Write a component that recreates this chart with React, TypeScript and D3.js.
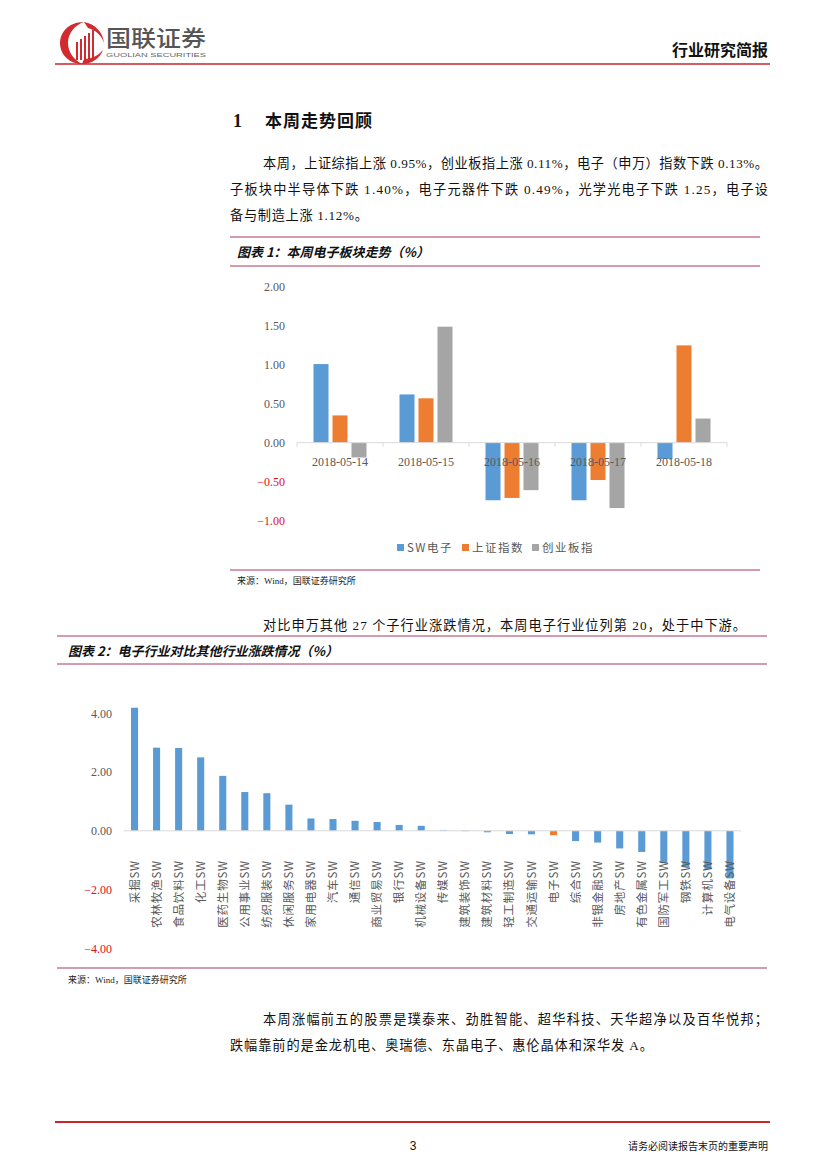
import React from "react";
import * as d3 from "d3";

// ---------- Chart 1 data ----------
const dates = ["2018-05-14", "2018-05-15", "2018-05-16", "2018-05-17", "2018-05-18"];
const seriesNames = ["SW电子", "上证指数", "创业板指"];
const swElec = [1.01, 0.62, -0.74, -0.74, -0.21];
const shIndex = [0.35, 0.57, -0.71, -0.48, 1.25];
const cybIndex = [-0.19, 1.49, -0.61, -0.84, 0.31];
const chart1Ticks = [-1, -0.5, 0, 0.5, 1, 1.5, 2];

// ---------- Chart 2 data ----------
const industries = [
  "采掘SW", "农林牧渔SW", "食品饮料SW", "化工SW", "医药生物SW", "公用事业SW", "纺织服装SW",
  "休闲服务SW", "家用电器SW", "汽车SW", "通信SW", "商业贸易SW", "银行SW", "机械设备SW",
  "传媒SW", "建筑装饰SW", "建筑材料SW", "轻工制造SW", "交通运输SW", "电子SW", "综合SW",
  "非银金融SW", "房地产SW", "有色金属SW", "国防军工SW", "钢铁SW", "计算机SW", "电气设备SW",
];
const industryChange = [
  4.19, 2.83, 2.82, 2.5, 1.87, 1.32, 1.28, 0.89, 0.42, 0.4, 0.34, 0.3, 0.2, 0.17,
  0.02, 0.01, -0.05, -0.11, -0.12, -0.15, -0.35, -0.4, -0.6, -0.72, -1.1, -1.24, -1.3, -1.62,
];
const highlight = "电子SW";
const chart2Ticks = [-4, -2, 0, 2, 4];

const BLUE = "#5B9BD5";
const ORANGE = "#ED7D31";
const GREY = "#A5A5A5";
const RED_LINE = "#C8252C";
const FRAME = "#A8395A";
const NEG = "#E0101C";
const AXIS_TXT = "#595959";

const SERIF = "'Liberation Serif','Noto Sans CJK SC',serif";
const CJK = "'Noto Sans CJK SC','Liberation Serif',sans-serif";

function Chart1() {
  const x0 = d3.scaleBand<string>().domain(dates).range([297, 727]);
  const x1 = d3
    .scaleBand<string>()
    .domain(seriesNames)
    .range([16.5, x0.bandwidth() - 16.5])
    .paddingInner(0.21);
  const y = d3.scaleLinear().domain([-1, 2]).range([520.5, 287]);
  const data = [swElec, shIndex, cybIndex];
  const colors = [BLUE, ORANGE, GREY];
  const fmt = d3.format(".2f");
  const legendX = [397, 462, 532];
  return (
    <g>
      {chart1Ticks.map((t) => (
        <text
          key={t}
          x={285}
          y={y(t)}
          dy="0.35em"
          textAnchor="end"
          fontFamily={SERIF}
          fontSize={12}
          fill={t < 0 ? NEG : AXIS_TXT}
        >
          {fmt(t)}
        </text>
      ))}
      {data.map((vals, si) =>
        vals.map((v, i) => (
          <rect
            key={`${si}-${i}`}
            x={(x0(dates[i]) as number) + (x1(seriesNames[si]) as number)}
            width={x1.bandwidth()}
            y={Math.min(y(v), y(0))}
            height={Math.abs(y(v) - y(0))}
            fill={colors[si]}
          />
        ))
      )}
      <line x1={297} x2={727} y1={y(0)} y2={y(0)} stroke="#D9D9D9" strokeWidth={1} />
      {d3.range(dates.length + 1).map((i) => {
        const xx = 297 + i * x0.bandwidth();
        return <line key={i} x1={xx} x2={xx} y1={y(0)} y2={y(0) + 4} stroke="#D9D9D9" />;
      })}
      {dates.map((d) => (
        <text
          key={d}
          x={(x0(d) as number) + x0.bandwidth() / 2}
          y={462}
          dy="0.35em"
          textAnchor="middle"
          fontFamily={SERIF}
          fontSize={12}
          fill={AXIS_TXT}
        >
          {d}
        </text>
      ))}
      {seriesNames.map((s, i) => (
        <g key={s}>
          <rect x={legendX[i]} y={544} width={7} height={7} fill={colors[i]} />
          <text
            x={legendX[i] + 10}
            y={548}
            dy="0.35em"
            fontFamily={CJK}
            fontSize={11.5}
            fill={AXIS_TXT}
            letterSpacing={1.5}
          >
            {s}
          </text>
        </g>
      ))}
    </g>
  );
}

function Chart2() {
  const x = d3
    .scaleBand<string>()
    .domain(industries)
    .range([123.5, 741])
    .paddingInner(0.68)
    .paddingOuter(0.34);
  const y = d3.scaleLinear().domain([-4, 4]).range([948.3, 713.3]);
  const fmt = d3.format(".2f");
  return (
    <g>
      {chart2Ticks.map((t) => (
        <text
          key={t}
          x={112}
          y={y(t)}
          dy="0.35em"
          textAnchor="end"
          fontFamily={SERIF}
          fontSize={12}
          fill={t < 0 ? NEG : AXIS_TXT}
        >
          {fmt(t)}
        </text>
      ))}
      {industries.map((c, i) => {
        const v = industryChange[i];
        return (
          <rect
            key={c}
            x={x(c) as number}
            width={x.bandwidth()}
            y={Math.min(y(v), y(0))}
            height={Math.max(0.6, Math.abs(y(v) - y(0)))}
            fill={c === highlight ? ORANGE : BLUE}
          />
        );
      })}
      <line x1={123.5} x2={741} y1={y(0)} y2={y(0)} stroke="#D9D9D9" strokeWidth={1} />
      {industries.map((c) => (
        <text
          key={c}
          transform={`translate(${(x(c) as number) + x.bandwidth() / 2},860) rotate(-90)`}
          dy="0.35em"
          textAnchor="end"
          fontFamily={CJK}
          fontSize={11.5}
          fill={AXIS_TXT}
          letterSpacing={0.8}
        >
          {c}
        </text>
      ))}
    </g>
  );
}

function Logo() {
  return (
    <g>
      <path
        d="M84 22 C68 22 60 33 60 43 C60 55 70 64 82 64 C74 60 68 52 68 43 C68 33 75 25 84 22 Z"
        fill="#D12A2F"
      />
      <path d="M84 22 C95 24 103 32 104 43 C102 36 96 30 88 28 Z" fill="#D12A2F" />
      {[76, 80, 84, 88, 92].map((xx, i) => (
        <rect key={xx} x={xx} y={30 + (4 - i) * 3} width={2} height={30 - (4 - i) * 3} fill="#D12A2F" />
      ))}
      <path d="M82 64 C92 64 100 58 103 50 C98 56 91 59 84 59 Z" fill="#D12A2F" />
      <text x={106} y={46} fontFamily={CJK} fontSize={22} fontWeight={500} fill="#555" textLength={100} lengthAdjust="spacingAndGlyphs">
        国联证券
      </text>
      <text x={106} y={57} fontFamily="'Liberation Sans',sans-serif" fontSize={6.2} fill="#666" textLength={100} lengthAdjust="spacingAndGlyphs">
        GUOLIAN SECURITIES
      </text>
    </g>
  );
}

export default function App() {
  const body = { fontFamily: SERIF, fontSize: 13.2, fill: "#111" } as const;
  return (
    <svg
      width={827}
      height={1169}
      viewBox="0 0 827 1169"
      style={{ position: "absolute", left: 0, top: 0, background: "#fff" }}
    >
      <rect width={827} height={1169} fill="#fff" />
      <Logo />
      <text x={768} y={56} textAnchor="end" fontFamily={CJK} fontSize={16} fontWeight={700} fill="#111">
        行业研究简报
      </text>
      <line x1={55} x2={770} y1={64} y2={64} stroke={RED_LINE} strokeWidth={1.6} />

      <text x={233} y={127} fontFamily={SERIF} fontSize={18} fontWeight={700} fill="#111">
        1
      </text>
      <text x={265} y={127} fontFamily={CJK} fontSize={17} fontWeight={700} fill="#111" letterSpacing={1}>
        本周走势回顾
      </text>

      <text x={263} y={168} {...body} textLength={505} lengthAdjust="spacing">
        本周，上证综指上涨 0.95%，创业板指上涨 0.11%，电子（申万）指数下跌 0.13%。
      </text>
      <text x={230} y={194} {...body} textLength={538} lengthAdjust="spacing">
        子板块中半导体下跌 1.40%，电子元器件下跌 0.49%，光学光电子下跌 1.25，电子设
      </text>
      <text x={230} y={220} {...body} textLength={138} lengthAdjust="spacing">
        备与制造上涨 1.12%。
      </text>

      <line x1={230} x2={760} y1={237} y2={237} stroke={FRAME} strokeWidth={1} />
      <text x={237} y={257} fontFamily={CJK} fontSize={13} fontWeight={700} fontStyle="italic" fill="#111">
        图表 1：本周电子板块走势（%）
      </text>
      <line x1={230} x2={760} y1={266} y2={266} stroke={FRAME} strokeWidth={1} />

      <Chart1 />

      <line x1={230} x2={760} y1={570} y2={570} stroke={FRAME} strokeWidth={1} />
      <text x={237} y={584} fontFamily={SERIF} fontSize={9} fill="#222">
        来源：Wind，国联证券研究所
      </text>

      <text x={263} y={630} {...body} textLength={483} lengthAdjust="spacing">
        对比申万其他 27 个子行业涨跌情况，本周电子行业位列第 20，处于中下游。
      </text>

      <line x1={57} x2={767} y1={636} y2={636} stroke={FRAME} strokeWidth={1} />
      <text x={68} y={656} fontFamily={CJK} fontSize={13} fontWeight={700} fontStyle="italic" fill="#111">
        图表 2：电子行业对比其他行业涨跌情况（%）
      </text>
      <line x1={57} x2={767} y1={664} y2={664} stroke={FRAME} strokeWidth={1} />

      <Chart2 />

      <line x1={57} x2={767} y1={968} y2={968} stroke={FRAME} strokeWidth={1} />
      <text x={68} y={983} fontFamily={SERIF} fontSize={9} fill="#222">
        来源：Wind，国联证券研究所
      </text>

      <text x={263} y={1024} {...body} textLength={505} lengthAdjust="spacing">
        本周涨幅前五的股票是璞泰来、劲胜智能、超华科技、天华超净以及百华悦邦；
      </text>
      <text x={230} y={1050} {...body} textLength={423} lengthAdjust="spacing">
        跌幅靠前的是金龙机电、奥瑞德、东晶电子、惠伦晶体和深华发 A。
      </text>

      <line x1={55} x2={770} y1={1122} y2={1122} stroke={RED_LINE} strokeWidth={2} />
      <text x={413} y={1150} textAnchor="middle" fontFamily="'Liberation Sans',sans-serif" fontSize={12} fill="#111">
        3
      </text>
      <text x={768} y={1150} textAnchor="end" fontFamily={CJK} fontSize={10} fill="#111">
        请务必阅读报告末页的重要声明
      </text>
    </svg>
  );
}
